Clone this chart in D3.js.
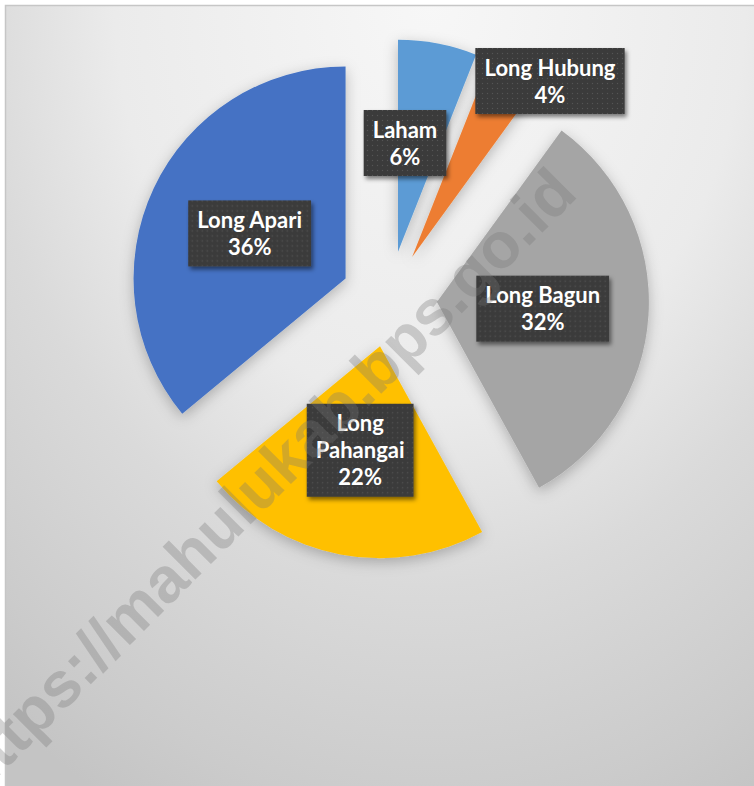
<!DOCTYPE html>
<html>
<head>
<meta charset="utf-8">
<script src="https://cdn.jsdelivr.net/npm/d3@7"></script>
<style>
  html, body { margin: 0; padding: 0; background: #ffffff; }
  svg { display: block; }
</style>
</head>
<body>
<svg id="chart" width="754" height="786"></svg>
<script>
// ---- data ----
const categories = ["Laham", "Long Hubung", "Long Bagun", "Long Pahangai", "Long Apari"];
const values = [6, 4, 32, 22, 36];
const colors = ["#5B9BD5", "#ED7D31", "#A5A5A5", "#FFC000", "#4472C4"];
const wrapCategory = [false, false, false, true, false];
const watermark = "https://mahulukab.bps.go.id";

// ---- layout ----
const W = 754, H = 786;
const cx = 389, cy = 299;
const R = 212;
const explode = 48;
const fontSize = 22;
const lineH = 27;
const padX = 9, padY = 6;
// manual label positions (relative to pie centre) for the two small slices
const labelOverride = { "Laham": [16, -156], "Long Hubung": [161, -218] };

const svg = d3.select("#chart");
const defs = svg.append("defs");

const bg = defs.append("radialGradient")
  .attr("id", "bg").attr("gradientUnits", "userSpaceOnUse")
  .attr("cx", 0).attr("cy", 0).attr("r", 1)
  .attr("gradientTransform", "translate(430,0) scale(700,900)");
[[0, "#f7f7f7"], [0.45, "#ebebeb"], [0.65, "#dadada"], [0.9, "#cbcbcb"], [1, "#c4c4c4"]]
  .forEach(([o, c]) => bg.append("stop").attr("offset", o).attr("stop-color", c));

const fs = defs.append("filter").attr("id", "sliceShadow")
  .attr("x", "-30%").attr("y", "-30%").attr("width", "160%").attr("height", "160%");
fs.append("feDropShadow").attr("dx", 0).attr("dy", 4).attr("stdDeviation", 7)
  .attr("flood-color", "#000").attr("flood-opacity", 0.25);

const fl = defs.append("filter").attr("id", "boxShadow")
  .attr("x", "-20%").attr("y", "-20%").attr("width", "150%").attr("height", "150%");
fl.append("feDropShadow").attr("dx", 2).attr("dy", 3).attr("stdDeviation", 2)
  .attr("flood-color", "#000").attr("flood-opacity", 0.5);

const pat = defs.append("pattern").attr("id", "dots")
  .attr("patternUnits", "userSpaceOnUse").attr("width", 5).attr("height", 5);
pat.append("rect").attr("width", 5).attr("height", 5).attr("fill", "#3b3b3b");
pat.append("circle").attr("cx", 2.5).attr("cy", 2.5).attr("r", 0.7).attr("fill", "#545454");

// background + border
svg.append("rect").attr("x", 5.5).attr("y", 5.5).attr("width", 800).attr("height", 800)
  .attr("fill", "url(#bg)").attr("stroke", "#c6c6c6").attr("stroke-width", 1.5);

const total = d3.sum(values);
const pct = d3.format(".0%");
const data = categories.map((c, i) => ({ cat: c, value: values[i], color: colors[i], wrap: wrapCategory[i] }));

const pie = d3.pie().sort(null).value(d => d.value).startAngle(0).endAngle(2 * Math.PI);
const arcs = pie(data);
const arc = d3.arc().innerRadius(0).outerRadius(R);

const g = svg.append("g").attr("transform", `translate(${cx},${cy})`);

function offset(a) {
  const m = (a.startAngle + a.endAngle) / 2;
  return [Math.sin(m) * explode, -Math.cos(m) * explode];
}

g.selectAll("path.slice").data(arcs).join("path")
  .attr("class", "slice")
  .attr("d", arc)
  .attr("fill", d => d.data.color)
  .attr("filter", "url(#sliceShadow)")
  .attr("transform", d => { const [dx, dy] = offset(d); return `translate(${dx},${dy})`; });

// watermark
svg.append("text")
  .attr("transform", "translate(-24,799) rotate(-45)")
  .attr("font-family", "'Liberation Sans', Arial, sans-serif")
  .attr("font-weight", "bold")
  .attr("font-size", 64)
  .attr("fill", "#777777")
  .attr("fill-opacity", 0.32)
  .text(watermark);

// labels
const labelArc = d3.arc().innerRadius(0).outerRadius(R);
arcs.forEach(a => {
  let pos;
  if (labelOverride[a.data.cat]) pos = labelOverride[a.data.cat];
  else {
    const [dx, dy] = offset(a);
    const c = labelArc.centroid(a);
    pos = [c[0] + dx, c[1] + dy];
  }
  const lines = (a.data.wrap ? a.data.cat.split(" ") : [a.data.cat]).concat([pct(a.data.value / total)]);
  const lg = g.append("g").attr("transform", `translate(${pos[0]},${pos[1]})`);
  const box = lg.append("rect").attr("fill", "url(#dots)").attr("filter", "url(#boxShadow)");
  const txt = lg.append("text")
    .attr("text-anchor", "middle")
    .attr("font-family", "Lato, 'Open Sans', sans-serif")
    .attr("font-weight", "bold")
    .attr("font-size", fontSize)
    .attr("fill", "#ffffff");
  const n = lines.length;
  lines.forEach((l, i) => {
    txt.append("tspan").attr("x", 0)
      .attr("y", (i - (n - 1) / 2) * lineH + 8)
      .text(l);
  });
  const bb = txt.node().getBBox();
  const bw = bb.width + 2 * padX, bh = n * lineH + 2 * padY;
  box.attr("x", -bw / 2).attr("y", -bh / 2).attr("width", bw).attr("height", bh);
});
</script>
</body>
</html>
